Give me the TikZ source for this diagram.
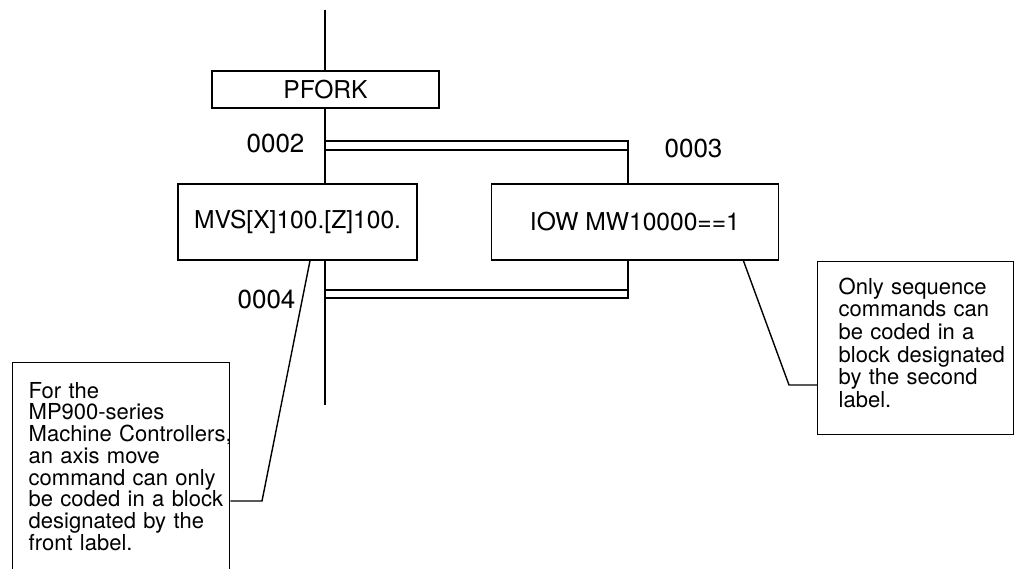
\documentclass[tikz,border=0pt]{standalone}
\usepackage{fontspec}
\setmainfont{TeX Gyre Heros}
\usetikzlibrary{positioning}

\begin{document}
\begin{tikzpicture}[x=1pt, y=-1pt, line width=1.4pt,
        % Define styles for the chart boxes, the step labels and the notes
        block/.style={draw, rectangle, inner sep=0pt, font=\fontsize{24.6}{29}\selectfont},
        steplbl/.style={inner sep=0pt, font=\fontsize{26}{30}\selectfont},
        note/.style={draw, rectangle, inner sep=0pt},
        notetext/.style={inner sep=0pt, align=left, anchor=north west}]

        % 0. Page size (the left note runs off the bottom)
        \useasboundingbox (0,0) rectangle (1015,569);
        \clip (0,0) rectangle (1015,569);

        % 1. The blocks
        \node[block, minimum width=227pt, minimum height=37pt] (pfork) at (325.5,89.5) {PFORK};
        \node[block, minimum width=239pt, minimum height=76pt] (mvs) at (297.5,222) {MVS[X]100.[Z]100.};
        \node[block, minimum width=287pt, minimum height=76pt, right=73pt of mvs] (iow) {IOW MW10000==1};

        % 2. Step numbers
        \node[steplbl] (s2) at (275.5,143) {0002};
        \node[steplbl] (s3) at (693.5,148) {0003};
        \node[steplbl] (s4) at (266.5,299) {0004};

        % 3. Main line and branch
        \coordinate (top) at (325,10);
        \coordinate (bottom) at (325,405);
        \coordinate (fork) at (628,150);
        \coordinate (join) at (628,290);
        \draw (top) -- (top |- pfork.north);
        \draw (top |- pfork.south) -- (top |- mvs.north);
        \draw (top |- mvs.south) -- (bottom);
        \draw (fork) -- (fork |- iow.north);
        \draw (fork |- iow.south) -- (join);

        % 4. Double lines of PFORK and the join
        \draw (325,141) rectangle (fork);
        \draw (join) rectangle (325,298);

        % 5. Notes
        \node[note, minimum width=217pt, minimum height=220pt, anchor=north west] (lnote) at (12,362) {};
        \node[notetext, text width=205pt, font=\fontsize{22}{21.7}\selectfont] (ltext) at (28,381.5)
            {For the\\MP900-series\\Machine Controllers,\\an axis move\\command can only\\be coded in a block\\designated by the\\front label.};
        \node[note, minimum width=196pt, minimum height=173pt, anchor=north west] (rnote) at (817,261) {};
        \node[notetext, text width=175pt, font=\fontsize{22}{22.7}\selectfont] (rtext) at (838,277)
            {Only sequence\\commands can\\be coded in a\\block designated\\by the second\\label.};

        % 6. Leader lines
        \coordinate (lbend) at (262,501);
        \coordinate (rbend) at (789,385);
        \draw ([xshift=12.5pt]mvs.south) -- (lbend) -- (lnote.east |- lbend);
        \draw ([xshift=108.5pt]iow.south) -- (rbend) -- (rnote.west |- rbend);

    \end{tikzpicture}
\end{document}
